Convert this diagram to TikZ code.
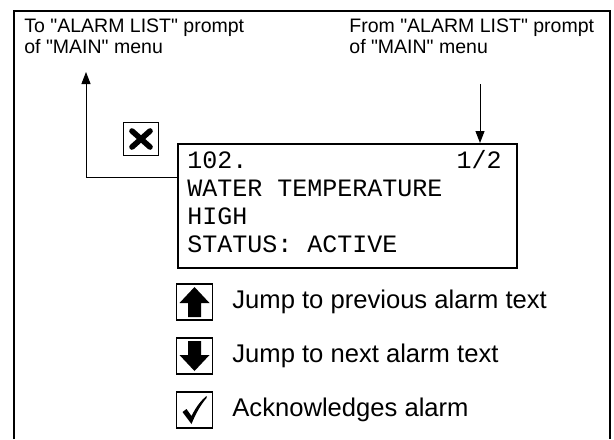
\documentclass[tikz,border=0pt]{standalone}
\usepackage{fontspec}
\setmainfont{Liberation Sans}
\newfontfamily\lcdfont{Liberation Mono}
\usetikzlibrary{arrows.meta,positioning,calc}

\begin{document}
\begin{tikzpicture}[x=0.5pt, y=-0.5pt, node distance=27pt,
    label/.style={inner sep=0pt, align=left, font=\fontsize{9.75}{10.5}\selectfont},
    lcdline/.style={inner sep=0pt, anchor=base west, font=\lcdfont\fontsize{12.5}{14}\selectfont},
    iconbox/.style={rectangle, draw, line width=0.75pt, minimum width=18pt, minimum height=18pt, inner sep=0pt},
    keytext/.style={inner sep=0pt, anchor=west, font=\fontsize{12.8}{15}\selectfont},
    flow/.style={line width=0.5pt, -{Triangle[length=6pt, width=4.5pt]}}]
    \useasboundingbox (0,0) rectangle (614,439);
    \draw[line width=0.8pt] (14,439) -- (14,11) -- (610,11) -- (610,439);

    \node[label, anchor=north west] (tolist) at (24,18) {To \textquotedbl ALARM LIST\textquotedbl{} prompt\\of \textquotedbl MAIN\textquotedbl{} menu};
    \node[label, anchor=north west] (fromlist) at (349,18) {From \textquotedbl ALARM LIST\textquotedbl{} prompt\\of \textquotedbl MAIN\textquotedbl{} menu};

    \node[rectangle, draw, line width=0.75pt, minimum width=169.5pt, minimum height=62pt, anchor=north west] (lcd) at (177,143) {};
    \node[lcdline] (l1) at (187,168) {102.};
    \node[lcdline, anchor=base east] (page) at (502,168) {1/2};
    \node[lcdline] (l2) at (187,196) {WATER TEMPERATURE};
    \node[lcdline] (l3) at (187,224) {HIGH};
    \node[lcdline] (l4) at (187,252) {STATUS: ACTIVE};

    \node[iconbox, minimum width=17.5pt, minimum height=16.5pt] (esc) at (141,139) {};
    \draw[line width=2.8pt, line cap=round] ($(esc)+(-9,-8)$) -- ($(esc)+(9,8)$);
    \draw[line width=2.8pt, line cap=round] ($(esc)+(-9,8)$) -- ($(esc)+(9,-8)$);

    \coordinate (bend) at (86,177);
    \coordinate (totop) at (86,72);
    \coordinate (fromtop) at (480,84);
    \draw[flow] (lcd.west |- bend) -- (bend) -- (totop);
    \draw[flow] (fromtop) -- (lcd.north -| fromtop);

    \node[iconbox] (up) at (194.5,302) {};
    \node[iconbox, below of=up] (down) {};
    \node[iconbox, below of=down] (ack) {};
    \fill[shift={(up.center)}] (0,-15) -- (15,1) -- (6.5,1) -- (6.5,15) -- (-6.5,15) -- (-6.5,1) -- (-15,1) -- cycle;
    \fill[shift={(down.center)}] (0,15) -- (15,-1) -- (6.5,-1) -- (6.5,-15) -- (-6.5,-15) -- (-6.5,-1) -- (-15,-1) -- cycle;
    \fill[shift={(ack.center)}] (-12,2) -- (-8,-1) -- (-3,6) .. controls (2,-4) and (7,-10) .. (12,-14)
        -- (12,-12) .. controls (6,-5) and (1,4) .. (-3,14) -- cycle;

    \node[keytext] (uptext) at (232,302) {Jump to previous alarm text};
    \node[keytext] (downtext) at (232,356) {Jump to next alarm text};
    \node[keytext] (acktext) at (232,410) {Acknowledges alarm};
\end{tikzpicture}
\end{document}
